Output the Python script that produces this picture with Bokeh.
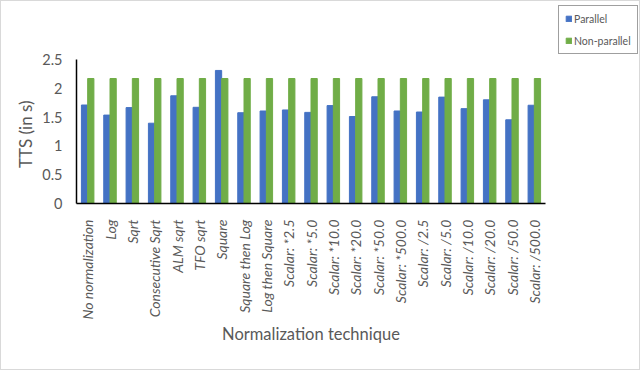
from bokeh.plotting import figure
from bokeh.models import ColumnDataSource, FixedTicker, Legend, LegendItem, FactorRange, Title
from bokeh.layouts import row
from bokeh.transform import dodge
from bokeh.embed import file_html
from bokeh.resources import INLINE
from math import pi

categories = ["No normalization", "Log", "Sqrt", "Consecutive Sqrt", "ALM sqrt", "TFO sqrt",
              "Square", "Square then Log", "Log then Square", "Scalar: *2.5", "Scalar: *5.0",
              "Scalar: *10.0", "Scalar: *20.0", "Scalar: *50.0", "Scalar: *500.0", "Scalar: /2.5",
              "Scalar: /5.0", "Scalar: /10.0", "Scalar: /20.0", "Scalar: /50.0", "Scalar: /500.0"]
parallel = [1.71, 1.535, 1.665, 1.394, 1.87, 1.67, 2.31, 1.576, 1.606, 1.624, 1.582,
            1.70, 1.51, 1.853, 1.606, 1.588, 1.847, 1.647, 1.80, 1.453, 1.706]
non_parallel = [2.17] * 21
series_names = ["Parallel", "Non-parallel"]
series_colors = ["#4472C4", "#70AD47"]
y_ticks = [0, 0.5, 1, 1.5, 2, 2.5]
y_tick_labels = ["0", "0.5", "1", "1.5", "2", "2.5"]

src = ColumnDataSource(dict(cat=categories, par=parallel, npar=non_parallel))

FONT = "Lato"
GRAY = "#595959"

# frame spans from the top edge; the value axis stops at 2.5
Y_AXIS_MAX = 2.5
y_view_top = Y_AXIS_MAX * (202.0 / 144.0)

p = figure(width=552, height=368, x_range=FactorRange(*categories), y_range=(0, y_view_top),
           output_backend="svg", toolbar_location=None,
           min_border_left=75, min_border_right=8, min_border_top=0, min_border_bottom=166)

p.vbar(x=dodge("cat", -0.14, range=p.x_range), top="par", width=0.28, source=src,
       fill_color=series_colors[0], line_color=series_colors[0])
p.vbar(x=dodge("cat", 0.14, range=p.x_range), top="npar", width=0.28, source=src,
       fill_color=series_colors[1], line_color=series_colors[1])

p.outline_line_color = None
p.xgrid.grid_line_color = None
p.ygrid.grid_line_color = None

p.yaxis.ticker = FixedTicker(ticks=y_ticks)
p.yaxis.bounds = (0, Y_AXIS_MAX)
p.yaxis.major_label_overrides = {t: l for t, l in zip(y_ticks, y_tick_labels)}
p.xaxis.axis_label = "Normalization technique"
p.xaxis.major_label_orientation = pi / 2

for ax in (p.xaxis[0], p.yaxis[0]):
    ax.axis_line_color = "black"
    ax.axis_line_width = 1.5
    ax.major_tick_line_color = None
    ax.minor_tick_line_color = None
    ax.major_label_text_font = FONT
    ax.major_label_text_color = GRAY
    ax.axis_label_text_font = FONT
    ax.axis_label_text_color = GRAY
    ax.axis_label_text_font_style = "normal"

p.xaxis.axis_label_text_font_size = "16.5px"
p.yaxis.major_label_text_font_size = "14.5px"
p.yaxis.major_label_standoff = 8
p.xaxis.major_label_text_font_size = "14px"
p.xaxis.major_label_text_font_style = "italic"
p.xaxis.major_label_standoff = 10
p.xaxis.axis_label_standoff = 2

ytitle = Title(text="TTS (in s)", align="right", offset=99, standoff=8,
               text_font=FONT, text_font_size="17px", text_color=GRAY,
               text_font_style="normal")
p.add_layout(ytitle, "left")

# legend panel
lf = figure(width=86, height=368, x_range=(0, 1), y_range=(0, 1),
            output_backend="svg", toolbar_location=None,
            min_border_left=1, min_border_right=0, min_border_top=0, min_border_bottom=0)
lf.axis.visible = False
lf.grid.visible = False
lf.outline_line_color = None
items = []
for name, col in zip(series_names, series_colors):
    r = lf.vbar(x=[5], top=[0], width=0.5, fill_color=col, line_color=col)
    items.append(LegendItem(label=name, renderers=[r]))
legend = Legend(items=items, location="top_left", orientation="vertical",
                label_text_font=FONT, label_text_font_size="10.5px", label_text_color=GRAY,
                glyph_width=7, glyph_height=7, label_height=13, spacing=9,
                padding=6, margin=4, label_standoff=2,
                border_line_color="#404040", border_line_width=1,
                background_fill_color="white")
lf.add_layout(legend)

layout = row(p, lf, styles={"border": "1px solid #d9d9d9"})

open("out.html", "w").write(file_html(layout, INLINE))
